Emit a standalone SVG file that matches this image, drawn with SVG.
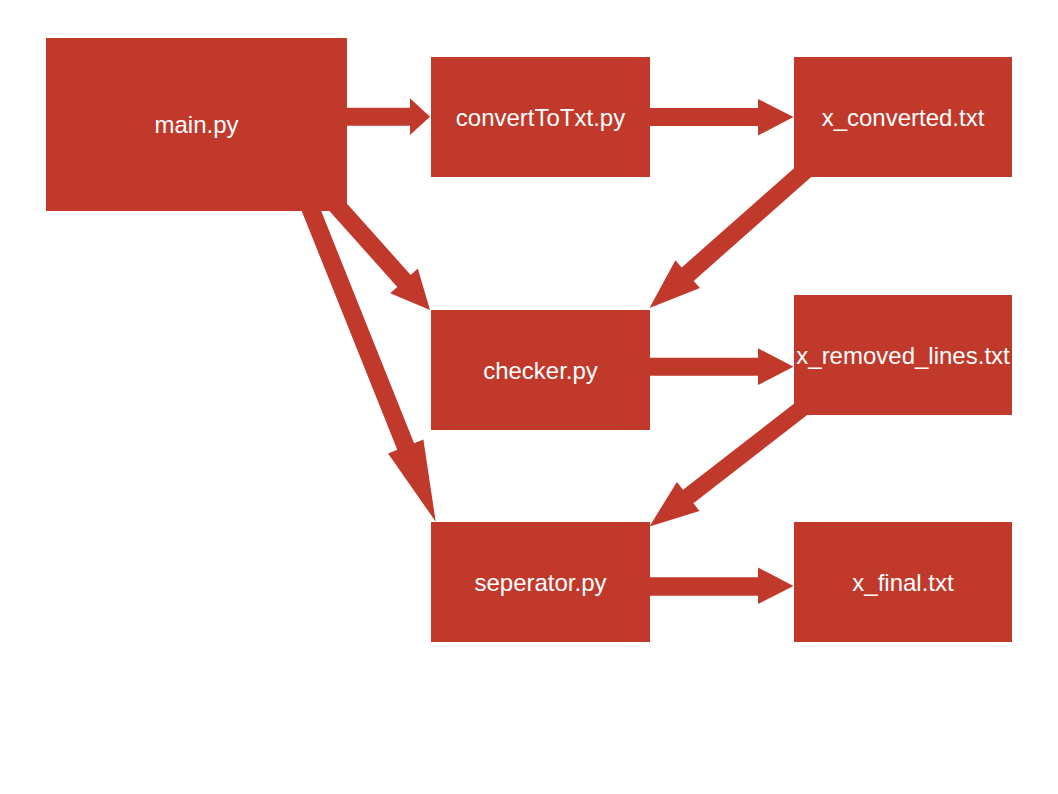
<svg xmlns="http://www.w3.org/2000/svg" width="1058" height="794" viewBox="0 0 1058 794">
<style>
.node rect{fill:#C0392B;}
.node text{fill:#FFFFFF;font-family:"Liberation Sans",Arial,sans-serif;font-size:24px;text-anchor:middle;}
.conn polygon{fill:#C0392B;}
</style>
<rect width="1058" height="794" fill="#FFFFFF"/>
<g id="connectors" class="conn">
<polygon points="347,107.7 410,107.7 410,98.3 430,116.7 410,135 410,125.7 347,125.7"/>
<polygon points="650,108 758,108 758,99 793.5,117 758,135.5 758,126 650,126"/>
<polygon points="650,357.7 758,357.7 758,348.3 793.5,366.7 758,385 758,375.7 650,375.7"/>
<polygon points="650,577.3 758,577.3 758,567.5 793.5,586 758,604 758,595.7 650,595.7"/>
<polygon points="817.4,171.6 693.7,280.9 700,288.1 649.5,308 675.4,260.3 681.7,267.5 805.4,158.2"/>
<polygon points="824.6,401.4 693.4,503.2 699.5,511.1 649.5,526.5 676.9,481.9 683,489.8 814.2,388"/>
<polygon points="330.1,184.8 410.7,274.9 417.8,268.6 430,310 390.2,293.2 397.3,286.9 316.7,196.8"/>
<polygon points="312.7,189.8 414.1,443.2 423.4,439.5 435.7,521.7 388.1,453.5 397.3,449.8 295.9,196.4"/>
</g>
<g id="main" class="node"><rect x="46" y="38" width="301" height="173"/><text x="196.5" y="133">main.py</text></g>
<g id="convertToTxt" class="node"><rect x="431" y="57" width="219" height="120"/><text x="540.5" y="126">convertToTxt.py</text></g>
<g id="x_converted" class="node"><rect x="794" y="57" width="218" height="120"/><text x="903" y="126">x_converted.txt</text></g>
<g id="checker" class="node"><rect x="431" y="310" width="219" height="120"/><text x="540.5" y="379">checker.py</text></g>
<g id="x_removed_lines" class="node"><rect x="794" y="295" width="218" height="120"/><text x="903" y="364">x_removed_lines.txt</text></g>
<g id="seperator" class="node"><rect x="431" y="522" width="219" height="120"/><text x="540.5" y="591">seperator.py</text></g>
<g id="x_final" class="node"><rect x="794" y="522" width="218" height="120"/><text x="903" y="591">x_final.txt</text></g>
</svg>
